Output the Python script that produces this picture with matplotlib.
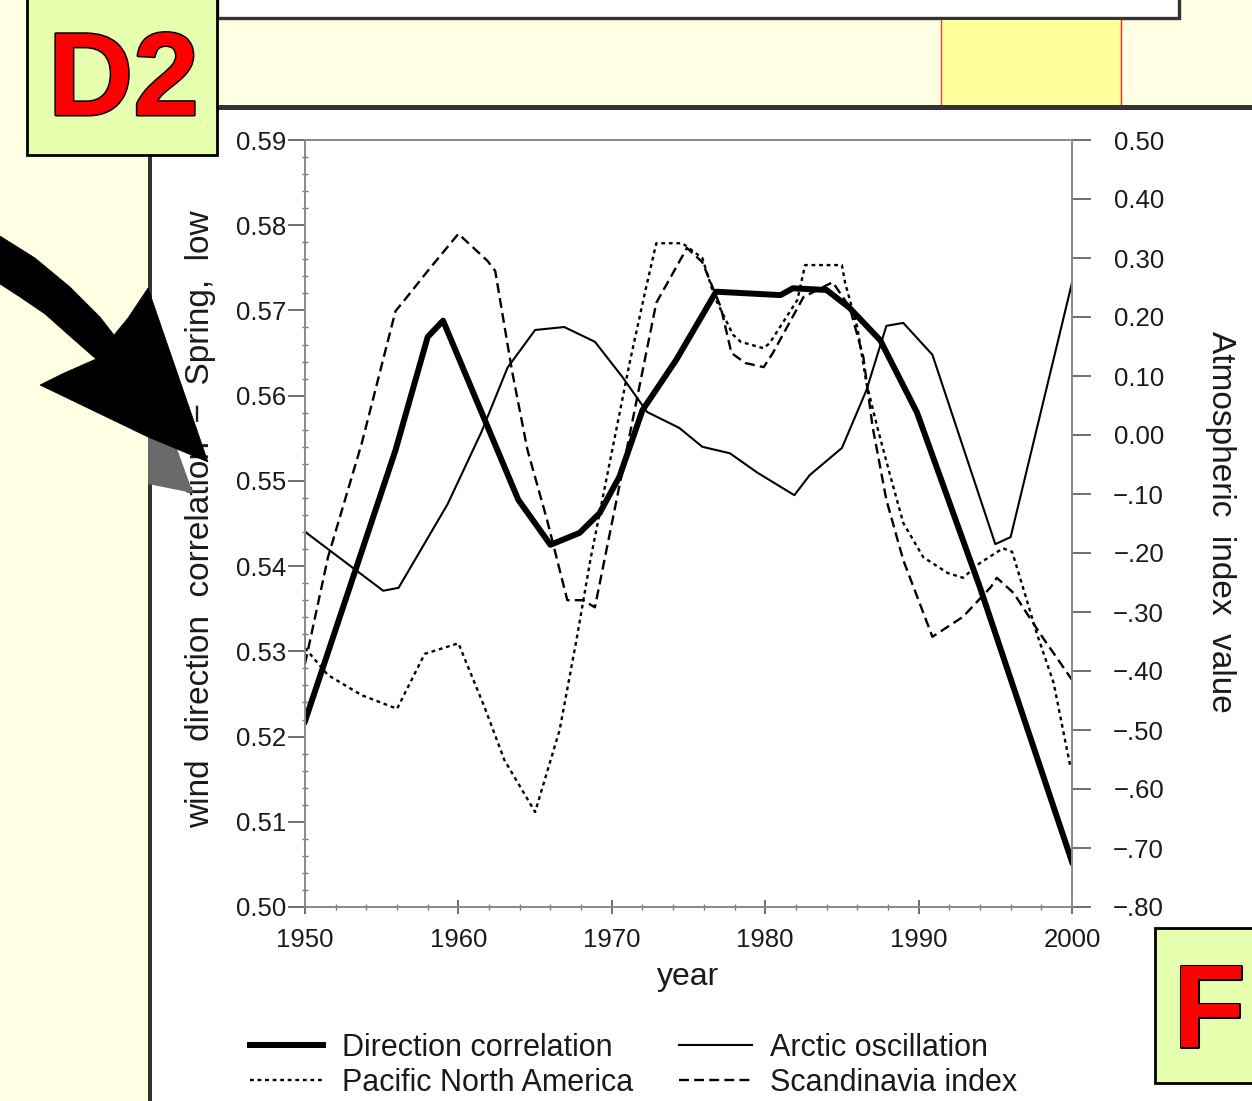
import matplotlib
matplotlib.use('Agg')
import matplotlib.pyplot as plt
from matplotlib.patches import Rectangle, Polygon
from matplotlib.lines import Line2D
import matplotlib.patheffects as pe
from matplotlib.ticker import MultipleLocator

plt.rcParams['font.family'] = ['Liberation Sans', 'DejaVu Sans']

# ---------------- data ----------------
dc_years = [1950, 1955.9, 1958.0, 1959.0, 1963.9, 1966.0, 1967.9, 1969.2, 1970.5, 1972.0,
            1974.2, 1976.8, 1981.0, 1981.8, 1984.0, 1985.5, 1987.5, 1989.9, 1994.0, 2000]
dc_values = [0.5218, 0.5536, 0.5669, 0.5688, 0.5478, 0.5425, 0.5439, 0.5462, 0.5505, 0.5583,
             0.5642, 0.5722, 0.5718, 0.5726, 0.5724, 0.5703, 0.5665, 0.5580, 0.5375, 0.5053]

ao_years = [1950, 1955.1, 1956.1, 1959.3, 1961.5, 1963.2, 1965.0, 1966.9, 1968.9, 1970.7,
            1972.3, 1974.4, 1975.9, 1977.7, 1979.5, 1981.9, 1982.9, 1985.0, 1986.6, 1987.9,
            1989.0, 1990.9, 1995.0, 1996.0, 2000]
ao_values = [-0.164, -0.264, -0.259, -0.117, 0.005, 0.114, 0.178, 0.183, 0.158, 0.098,
             0.039, 0.012, -0.020, -0.031, -0.064, -0.102, -0.068, -0.022, 0.076, 0.185,
             0.190, 0.136, -0.185, -0.173, 0.258]

pna_years = [1950, 1951.5, 1953.7, 1956.0, 1957.8, 1960.0, 1961.7, 1963.0, 1965.0, 1966.6,
             1967.7, 1968.6, 1969.9, 1971.2, 1972.2, 1972.9, 1974.6, 1975.9, 1976.7, 1977.9,
             1978.4, 1979.9, 1980.3, 1982.1, 1982.6, 1985.0, 1985.2, 1986.0, 1986.6, 1987.3,
             1988.1, 1989.0, 1990.3, 1991.9, 1992.9, 1994.0, 1995.5, 1996.1, 1996.8, 1997.7,
             1998.8, 1999.9]
pna_values = [-0.361, -0.407, -0.441, -0.464, -0.371, -0.353, -0.461, -0.551, -0.639, -0.500,
              -0.347, -0.212, -0.042, 0.127, 0.246, 0.325, 0.325, 0.300, 0.234, 0.170,
              0.158, 0.147, 0.156, 0.229, 0.288, 0.288, 0.259, 0.183, 0.088, 0.014,
              -0.064, -0.149, -0.207, -0.234, -0.242, -0.217, -0.192, -0.198, -0.258, -0.336,
              -0.420, -0.563]

sca_years = [1950, 1951.5, 1953.7, 1955.9, 1956.5, 1958.0, 1960.0, 1961.9, 1962.4, 1963.5,
             1964.5, 1965.8, 1967.1, 1968.1, 1968.9, 1972.9, 1974.9, 1975.9, 1977.1, 1977.8,
             1978.7, 1979.9, 1980.5, 1982.5, 1984.4, 1985.5, 1986.4, 1987.0, 1987.9, 1989.0,
             1990.9, 1992.9, 1994.7, 1995.1, 1996.2, 1997.9, 2000]
sca_values = [-0.388, -0.207, -0.014, 0.210, 0.229, 0.278, 0.341, 0.295, 0.278, 0.108,
              -0.025, -0.146, -0.280, -0.280, -0.292, 0.224, 0.317, 0.293, 0.217, 0.139,
              0.122, 0.115, 0.139, 0.234, 0.259, 0.217, 0.132, 0.014, -0.110, -0.212,
              -0.342, -0.308, -0.258, -0.242, -0.268, -0.336, -0.415]

x_ticks = [1950, 1960, 1970, 1980, 1990, 2000]
x_tick_labels = ['1950', '1960', '1970', '1980', '1990', '2000']
left_ticks = [0.50, 0.51, 0.52, 0.53, 0.54, 0.55, 0.56, 0.57, 0.58, 0.59]
left_tick_labels = ['0.50', '0.51', '0.52', '0.53', '0.54', '0.55', '0.56', '0.57', '0.58', '0.59']
right_ticks = [0.5, 0.4, 0.3, 0.2, 0.1, 0.0, -0.1, -0.2, -0.3, -0.4, -0.5, -0.6, -0.7, -0.8]
right_tick_labels = ['0.50', '0.40', '0.30', '0.20', '0.10', '0.00', '\u2212.10', '\u2212.20',
                     '\u2212.30', '\u2212.40', '\u2212.50', '\u2212.60', '\u2212.70', '\u2212.80']

series_labels = ['Direction correlation', 'Pacific North America',
                 'Arctic oscillation', 'Scandinavia index']

# ---------------- figure ----------------
W, H = 1252, 1101
fig = plt.figure(figsize=(W / 100, H / 100), dpi=100, facecolor='white')


def fx(x):
    return x / W


def fy(y):
    return 1 - y / H


def rect(x0, y0, x1, y1, **kw):
    r = Rectangle((fx(x0), fy(y1)), (x1 - x0) / W, (y1 - y0) / H,
                  transform=fig.transFigure, **kw)
    fig.add_artist(r)
    return r


def poly(pts, **kw):
    p = Polygon([(fx(x), fy(y)) for x, y in pts], closed=True,
                transform=fig.transFigure, **kw)
    fig.add_artist(p)
    return p


LY = '#FFFFE3'
DARK = '#333333'
# slide decorations
rect(0, 0, 150, H, facecolor=LY, edgecolor='none', zorder=1)
rect(0, 0, W, 107, facecolor=LY, edgecolor='none', zorder=1)
rect(217, -10, 1179, 18, facecolor='white', edgecolor=DARK, linewidth=2.4, zorder=1.1)
rect(941, 20, 1121, 106, facecolor='#FFFF99', edgecolor='none', zorder=1.1)
fig.add_artist(Line2D([fx(941), fx(941)], [fy(20), fy(106)], color='#FF4040', lw=1,
                      transform=fig.transFigure, zorder=1.2))
fig.add_artist(Line2D([fx(1121), fx(1121)], [fy(20), fy(106)], color='#FF2020', lw=1,
                      transform=fig.transFigure, zorder=1.2))
rect(217, 105, W + 5, 110, facecolor=DARK, edgecolor='none', zorder=1.3)
rect(148, 150, 152, H + 5, facecolor=DARK, edgecolor='none', zorder=1.3)

# arrow with shadow
poly([(148, 437), (176, 446), (193, 493), (148, 484)], facecolor='#6A6A6A',
     edgecolor='none', zorder=1.4)
poly([(0, 236), (35, 258), (70, 287), (100, 317), (114, 335), (128, 318), (148, 288),
      (208, 462), (148, 437), (40, 385), (62, 374), (80, 366), (96, 359), (72, 338),
      (45, 314), (20, 297), (0, 284)],
     facecolor='black', edgecolor='black', linewidth=0.5, zorder=1.5)

# label boxes
BOXC = '#E6FFAF'
rect(27, -10, 217, 155, facecolor=BOXC, edgecolor='black', linewidth=2, zorder=1.6)
rect(1155, 928, W + 10, 1083, facecolor=BOXC, edgecolor='black', linewidth=2, zorder=1.6)
stroke = [pe.withStroke(linewidth=2.2, foreground='black')]
fig.text(fx(48), fy(115), 'D2', ha='left', va='baseline', fontsize=85, fontweight='bold',
         color='#FF0000', family='Liberation Sans', path_effects=stroke, zorder=1.7)
fig.text(fx(1173), fy(1047), 'F', ha='left', va='baseline', fontsize=85, fontweight='bold',
         color='#FF0000', family='Liberation Sans', path_effects=stroke, zorder=1.7)

# ---------------- chart ----------------
ax = fig.add_axes([fx(305), fy(907), 767 / W, 767 / H])
ax.set_facecolor('white')
ax2 = ax.twinx()

l_dc, = ax.plot(dc_years, dc_values, color='black', lw=4.3, solid_joinstyle='round')
l_ao, = ax2.plot(ao_years, ao_values, color='black', lw=1.5)
l_pna, = ax2.plot(pna_years, pna_values, color='black', lw=1.7, linestyle=(0, (1.6, 1.6)))
l_sca, = ax2.plot(sca_years, sca_values, color='black', lw=1.7, linestyle=(0, (4.2, 2.2)))

ax.set_xlim(1950, 2000)
ax.set_ylim(0.50, 0.59)
ax2.set_ylim(-0.80, 0.50)

SP = '#8A8A8A'
for a in (ax, ax2):
    for s in a.spines.values():
        s.set_color(SP)
        s.set_linewidth(1.3)

ax.set_xticks(x_ticks)
ax.set_xticklabels(x_tick_labels)
ax.xaxis.set_minor_locator(MultipleLocator(2))
ax.tick_params(axis='x', which='major', direction='inout', length=10, width=1.2,
               color='#555555', labelsize=18.5, pad=10, labelcolor='#1a1a1a')
ax.tick_params(axis='x', which='minor', direction='inout', length=5, width=1.0, color='#777777')

ax.set_yticks(left_ticks)
ax.set_yticklabels(left_tick_labels)
ax.yaxis.set_minor_locator(MultipleLocator(0.002))
ax.tick_params(axis='y', which='major', direction='out', length=12, width=1.2,
               color='#555555', labelsize=18.5, pad=1.5, labelcolor='#1a1a1a')
ax.tick_params(axis='y', which='minor', direction='inout', length=5, width=1.0, color='#777777')

ax2.set_yticks(right_ticks)
ax2.set_yticklabels(right_tick_labels)
ax2.tick_params(axis='y', which='major', direction='out', length=13.7, width=1.2,
                color='#555555', labelsize=18.5, pad=52.6, labelcolor='#1a1a1a')
for t in ax2.get_yticklabels():
    t.set_horizontalalignment('right')

ax.set_xlabel('year', fontsize=23, color='#1a1a1a')
ax.xaxis.set_label_coords(0.5, -0.072)
ax.set_ylabel('wind  direction  correlation  \u2212  Spring,  low', fontsize=24, color='#1a1a1a')
ax.yaxis.set_label_coords(-0.116, 0.505)
ax2.set_ylabel('Atmospheric  index  value', fontsize=24, rotation=270, va='bottom',
               color='#1a1a1a')
ax2.yaxis.set_label_coords(1.1734, 0.502)

fig.legend([l_dc, l_pna, l_ao, l_sca], series_labels, ncol=2, loc='upper left',
           bbox_to_anchor=(fx(250), fy(1033)), frameon=False, fontsize=22,
           handlelength=2.4, handletextpad=0.6, columnspacing=1.5, labelspacing=0.15,
           borderpad=0, borderaxespad=0, labelcolor='#1a1a1a')

fig.savefig('out.png', dpi=100, facecolor='white')
